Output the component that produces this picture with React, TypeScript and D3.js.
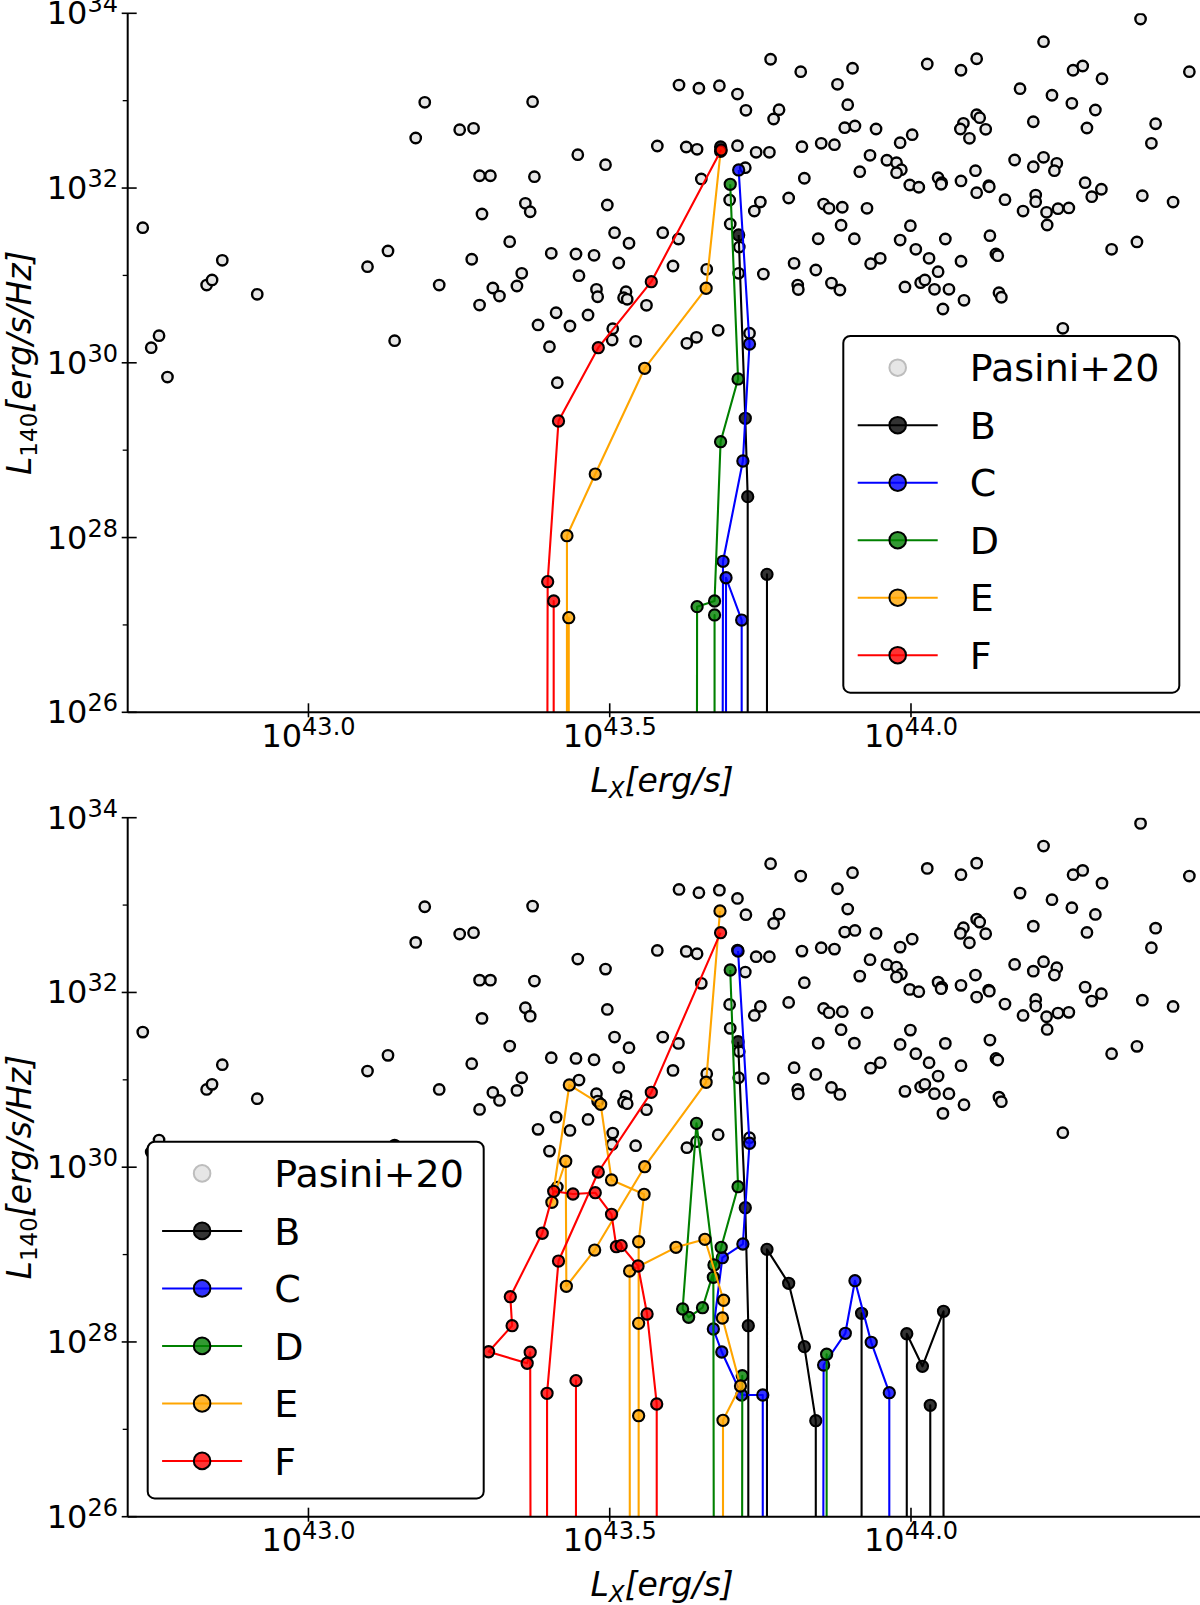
import React from 'react';
import * as d3 from 'd3';

// ---------------- DATA (log10 values) ----------------
// Pasini+20 sample: log10 Lx [erg/s], log10 L140 [erg/s/Hz]
const pasiniLogLx = [
  42.725, 42.739, 42.752, 42.766, 42.831, 42.840, 42.857, 42.915, 43.098, 43.132, 43.143,
  43.767, 43.817, 43.615, 43.648, 43.682, 43.712, 43.726, 43.781, 43.772, 43.193, 43.372,
  43.251, 43.274, 43.178, 43.579, 43.627, 43.645, 43.712, 43.743, 43.765, 43.819, 43.447,
  43.493, 43.725, 43.652, 43.823, 43.284, 43.302, 43.375, 43.699, 43.750, 43.740, 43.797,
  43.360, 43.368, 43.288, 43.496, 43.700, 43.508, 43.532, 43.588, 43.614, 43.334, 43.271,
  43.403, 43.444, 43.474, 43.515, 43.715, 43.714, 43.806, 43.755, 43.812, 43.813, 43.605,
  43.217, 43.354, 43.346, 43.306, 43.317, 43.284, 43.449, 43.478, 43.480, 43.527, 43.523,
  43.529, 43.561, 43.411, 43.464, 43.381, 43.434, 43.505, 43.504, 43.400, 43.543, 43.628,
  43.644, 43.680, 43.732, 43.413, 43.661,
  44.381, 44.220, 44.027, 44.083, 44.109, 43.903, 43.878, 43.895, 44.269, 44.285, 44.317,
  44.462, 44.181, 44.234, 44.267, 44.306, 44.203, 44.292, 44.406, 44.399, 43.890, 43.907,
  43.942, 44.002, 43.982, 44.087, 44.082, 44.097, 44.109, 44.114, 44.124, 43.851, 43.873,
  43.932, 43.960, 43.976, 43.984, 43.976, 43.915, 43.998, 44.013, 44.045, 44.051, 44.050,
  44.083, 44.107, 44.109, 44.129, 44.130, 44.156, 44.172, 44.203, 44.220, 44.242, 44.238,
  44.186, 44.207, 44.207, 44.225, 44.244, 44.262, 44.226, 44.289, 44.300, 44.316, 44.384,
  44.435, 43.855, 43.864, 43.886, 43.927, 43.884, 43.846, 43.906, 43.999, 43.982, 44.008,
  44.057, 44.030, 44.131, 44.141, 44.144, 44.083, 43.933, 43.949, 43.842, 43.868, 43.882,
  43.990, 44.016, 44.023, 44.039, 44.063, 44.045, 44.053, 44.088, 44.146, 44.150, 44.333,
  44.375, 44.252,
];
const pasiniLogL140 = [
  31.546, 30.173, 30.310, 29.837, 30.890, 30.948, 31.173, 30.784, 31.100, 31.280, 30.253,
  33.474, 33.332, 33.179, 33.142, 33.171, 33.076, 32.890, 32.897, 32.790, 32.981, 32.988,
  32.668, 32.684, 32.573, 32.481, 32.470, 32.443, 32.485, 32.409, 32.409, 32.473, 32.382,
  32.267, 32.233, 32.104, 32.112, 32.141, 32.141, 32.130, 31.863, 31.840, 31.737, 31.886,
  31.825, 31.729, 31.703, 31.806, 31.589, 31.489, 31.368, 31.489, 31.417, 31.386, 31.185,
  31.253, 31.245, 31.230, 31.142, 31.325, 31.024, 31.139, 31.016, 30.890, 30.839, 31.108,
  30.890, 31.024, 30.879, 30.856, 30.764, 30.661, 30.997, 30.841, 30.756, 30.814, 30.745,
  30.727, 30.658, 30.573, 30.547, 30.433, 30.421, 30.390, 30.261, 30.184, 30.246, 30.223,
  30.292, 30.372, 30.338, 29.772, 31.070,
  33.935, 33.675, 33.420, 33.348, 33.480, 33.371, 33.187, 32.954, 33.348, 33.397, 33.251,
  33.332, 33.137, 33.062, 32.970, 32.893, 32.759, 32.687, 32.736, 32.512, 32.691, 32.710,
  32.676, 32.611, 32.519, 32.741, 32.676, 32.569, 32.839, 32.805, 32.672, 32.512, 32.496,
  32.375, 32.318, 32.290, 32.210, 32.176, 32.187, 32.035, 32.009, 32.118, 32.061, 32.043,
  32.081, 32.199, 31.947, 32.027, 32.015, 31.867, 32.321, 32.244, 32.352, 32.283, 32.199,
  31.737, 31.920, 31.844, 31.722, 31.764, 31.772, 31.577, 32.061, 31.901, 31.986, 31.912,
  31.840, 31.817, 31.768, 31.780, 31.768, 31.574, 31.420, 31.420, 31.569, 31.405, 31.299,
  31.417, 31.196, 31.455, 31.245, 31.226, 31.162, 31.134, 31.196, 31.062, 30.913, 30.833,
  30.868, 30.917, 30.948, 30.841, 30.841, 31.043, 30.616, 30.715, 30.802, 30.750, 31.299,
  31.383, 30.395,
];

// value used for L140 ~ 0 (falls far below the plotted range)
const OFF = 20;

type Pt = [number, number] | null;

const seriesNames = ['B', 'C', 'D', 'E', 'F'];
const seriesColors = ['#000000', '#0000ff', '#008000', '#ffa500', '#ff0000'];

// Upper panel tracks
const topB: Pt[] = [[43.684, 32.470], null, [43.714, 31.463], [43.725, 29.365], [43.729, 28.468], [43.729, OFF], [43.761, OFF], [43.761, 27.579], [43.761, OFF]];
const topC: Pt[] = [[43.714, 32.207], [43.732, 30.215], [43.721, 28.876], [43.688, 27.728], [43.686, OFF], [43.693, OFF], [43.693, 27.540], [43.719, 27.056], [43.719, OFF]];
const topD: Pt[] = [[43.700, 32.043], [43.713, 29.815], [43.684, 29.097], [43.674, 27.274], [43.645, 27.209], [43.644, OFF], [43.674, OFF], [43.674, 27.114], [43.674, OFF]];
const topE: Pt[] = [[43.684, 32.420], [43.660, 30.853], [43.558, 29.937], [43.476, 28.727], [43.429, 28.021], [43.429, OFF], [43.432, OFF], [43.432, 27.083], [43.432, OFF]];
const topF: Pt[] = [[43.685, 32.435], [43.569, 30.928], [43.481, 30.173], [43.415, 29.334], [43.397, 27.495], [43.395, OFF], [43.407, OFF], [43.407, 27.274], [43.407, OFF]];

// Lower panel tracks
const botB: Pt[] = [[43.713, 31.436], [43.725, 29.536], [43.730, 28.186], [43.730, OFF], [43.761, OFF], [43.761, 29.060], [43.797, 28.671], [43.823, 27.946], [43.842, 27.099], [43.842, OFF], [43.918, OFF], [43.918, 28.328], [43.918, OFF], [43.993, OFF], [43.993, 28.094], [44.019, 27.721], [44.054, 28.351], [44.054, OFF], [44.032, OFF], [44.032, 27.275], [44.032, OFF]];
const botC: Pt[] = [[43.713, 32.474], [43.732, 30.274], [43.721, 29.121], [43.687, 28.964], [43.672, 28.148], [43.686, 27.885], [43.719, 27.393], [43.754, 27.393], [43.754, OFF], [43.853, OFF], [43.855, 27.736], [43.891, 28.099], [43.907, 28.701], [43.934, 27.996], [43.964, 27.419], [43.964, OFF]];
const botD: Pt[] = [[43.700, 32.257], [43.713, 29.777], [43.685, 29.083], [43.654, 28.392], [43.631, 28.282], [43.621, 28.377], [43.644, 30.502], [43.673, 28.881], [43.672, 28.740], [43.674, OFF], [43.719, OFF], [43.720, 27.614], [43.719, OFF], [43.860, OFF], [43.860, 27.859], [43.860, OFF]];
const botE: Pt[] = [[43.683, 32.932], [43.660, 30.972], [43.558, 30.006], [43.475, 29.052], [43.428, 28.637], [43.427, 30.068], [43.404, 29.598], [43.433, 30.941], [43.485, 30.720], [43.503, 29.854], [43.557, 29.690], [43.548, 29.147], [43.548, 28.213], [43.548, 27.156], [43.548, OFF], [43.534, OFF], [43.533, 28.812], [43.610, 29.083], [43.658, 29.175], [43.689, 28.477], [43.687, 28.274], [43.717, 27.496], [43.688, 27.103], [43.688, OFF]];
const botF: Pt[] = [[43.684, 32.684], [43.569, 30.857], [43.481, 29.945], [43.415, 28.926], [43.396, 27.412], [43.396, OFF], [43.444, OFF], [43.444, 27.557], [43.444, OFF], [43.370, OFF], [43.368, 27.882], [43.363, 27.756], [43.299, 27.888], [43.338, 28.186], [43.335, 28.518], [43.388, 29.244], [43.407, 29.724], [43.439, 29.693], [43.476, 29.708], [43.503, 29.461], [43.511, 29.090], [43.519, 29.102], [43.547, 28.869], [43.562, 28.320], [43.578, 27.290], [43.578, OFF]];

const topSeries = [topB, topC, topD, topE, topF];
const botSeries = [botB, botC, botD, botE, botF];

const xTickExps = [43.0, 43.5, 44.0];
const xTickLabels = ['43.0', '43.5', '44.0'];
const yMajorExps = [26, 28, 30, 32, 34];
const yMinorExps = [27, 29, 31, 33];
const legendLabel0 = 'Pasini+20';

// ---------------- LAYOUT ----------------
const W = 1200;
const H = 1605;
const AX_LEFT = 127.7;
const AX_RIGHT = 1200.2;
const X_EXP_DOMAIN = [42.7, 44.48];
const Y_EXP_DOMAIN = [26, 34];
const FONT = '"DejaVu Sans", Verdana, sans-serif';

interface PanelProps {
  top: number;
  bottom: number;
  series: Pt[][];
  legendX: number;
  legendY: number;
  id: string;
}

function Panel({ top, bottom, series, legendX, legendY, id }: PanelProps) {
  const x = d3.scaleLog().domain([10 ** X_EXP_DOMAIN[0], 10 ** X_EXP_DOMAIN[1]]).range([AX_LEFT, AX_RIGHT]);
  const y = d3.scaleLog().domain([10 ** Y_EXP_DOMAIN[0], 10 ** Y_EXP_DOMAIN[1]]).range([bottom, top]);
  const px = (e: number) => x(10 ** e);
  const py = (e: number) => y(10 ** e);
  const line = d3
    .line<Pt>()
    .defined((d) => d !== null)
    .x((d) => px((d as [number, number])[0]))
    .y((d) => py((d as [number, number])[1]));

  const clipId = `clip-${id}`;
  const midY = (top + bottom) / 2;
  const rowH = 57.5;

  return (
    <g>
      <defs>
        <clipPath id={clipId}>
          <rect x={AX_LEFT} y={top} width={AX_RIGHT - AX_LEFT} height={bottom - top} />
        </clipPath>
      </defs>
      <g clipPath={`url(#${clipId})`}>
        {pasiniLogLx.map((lx, i) => (
          <circle
            key={`p${i}`}
            cx={px(lx)}
            cy={py(pasiniLogL140[i])}
            r={5.2}
            fill="#e6e6e6"
            stroke="#000"
            strokeWidth={2.4}
          />
        ))}
        {series.map((s, si) => (
          <g key={`s${si}`}>
            <path d={line(s) || ''} fill="none" stroke={seriesColors[si]} strokeWidth={2.1} strokeLinejoin="round" />
            {s
              .filter((d) => d !== null && d[1] >= Y_EXP_DOMAIN[0])
              .map((d, k) => (
                <circle
                  key={k}
                  cx={px((d as [number, number])[0])}
                  cy={py((d as [number, number])[1])}
                  r={5.6}
                  fill={seriesColors[si]}
                  fillOpacity={0.8}
                  stroke="#000"
                  strokeWidth={2.1}
                />
              ))}
          </g>
        ))}
      </g>

      {/* spines */}
      <line x1={AX_LEFT} x2={AX_LEFT} y1={top} y2={bottom} stroke="#000" strokeWidth={2} />
      <line x1={AX_LEFT} x2={W} y1={bottom} y2={bottom} stroke="#000" strokeWidth={2} />

      {/* y ticks */}
      {yMajorExps.map((e) => (
        <g key={`ym${e}`}>
          <line x1={AX_LEFT - 6} x2={AX_LEFT + 9} y1={py(e)} y2={py(e)} stroke="#000" strokeWidth={1.6} />
          <text x={118} y={py(e) + 11} textAnchor="end" fontSize={32} fontFamily={FONT} fill="#000">
            10
            <tspan fontSize={24} dy={-12}>
              {String(e)}
            </tspan>
          </text>
        </g>
      ))}
      {yMinorExps.map((e) => (
        <line key={`yn${e}`} x1={AX_LEFT - 5} x2={AX_LEFT} y1={py(e)} y2={py(e)} stroke="#000" strokeWidth={1.3} />
      ))}

      {/* x ticks */}
      {xTickExps.map((e, i) => (
        <g key={`xm${e}`}>
          <line x1={px(e)} x2={px(e)} y1={bottom - 9} y2={bottom + 5} stroke="#000" strokeWidth={1.6} />
          <text x={px(e)} y={bottom + 34.6} textAnchor="middle" fontSize={32} fontFamily={FONT} fill="#000">
            10
            <tspan fontSize={24} dy={-12}>
              {xTickLabels[i]}
            </tspan>
          </text>
        </g>
      ))}

      {/* axis labels */}
      <text x={662} y={bottom + 79.3} textAnchor="middle" fontSize={33} fontFamily={FONT} fontStyle="italic" fill="#000">
        L
        <tspan fontSize={23} dy={6}>
          X
        </tspan>
        <tspan dy={-6}>[erg/s]</tspan>
      </text>
      <text
        transform={`translate(31, ${midY}) rotate(-90)`}
        textAnchor="middle"
        fontSize={33}
        fontFamily={FONT}
        fontStyle="italic"
        fill="#000"
      >
        L
        <tspan fontSize={23} dy={6} fontStyle="normal">
          140
        </tspan>
        <tspan dy={-6}>[erg/s/Hz]</tspan>
      </text>

      {/* legend */}
      <g>
        <rect x={legendX} y={legendY} width={336} height={356.7} rx={7} ry={7} fill="#fff" stroke="#000" strokeWidth={2} />
        <circle cx={legendX + 54.4} cy={legendY + 31.7} r={8.3} fill="#e6e6e6" stroke="#bdbdbd" strokeWidth={2} />
        <text x={legendX + 126.5} y={legendY + 31.7 + 13.7} fontSize={38} fontFamily={FONT} fill="#000">
          {legendLabel0}
        </text>
        {seriesNames.map((name, i) => {
          const cy = legendY + 31.7 + (i + 1) * rowH;
          return (
            <g key={`lg${name}`}>
              <line x1={legendX + 14.4} x2={legendX + 94.4} y1={cy} y2={cy} stroke={seriesColors[i]} strokeWidth={2} />
              <circle cx={legendX + 54.4} cy={cy} r={8.3} fill={seriesColors[i]} fillOpacity={0.8} stroke="#000" strokeWidth={2} />
              <text x={legendX + 126.5} y={cy + 13.7} fontSize={38} fontFamily={FONT} fill="#000">
                {name}
              </text>
            </g>
          );
        })}
      </g>
    </g>
  );
}

export default function App() {
  return (
    <svg
      width={W}
      height={H}
      viewBox={`0 0 ${W} ${H}`}
      style={{ position: 'absolute', left: 0, top: 0, display: 'block', background: '#fff' }}
    >
      <rect x={0} y={0} width={W} height={H} fill="#fff" />
      <Panel top={13.3} bottom={712.3} series={topSeries} legendX={843.3} legendY={336} id="top" />
      <Panel top={817.7} bottom={1516.7} series={botSeries} legendX={147.7} legendY={1141.7} id="bot" />
    </svg>
  );
}
